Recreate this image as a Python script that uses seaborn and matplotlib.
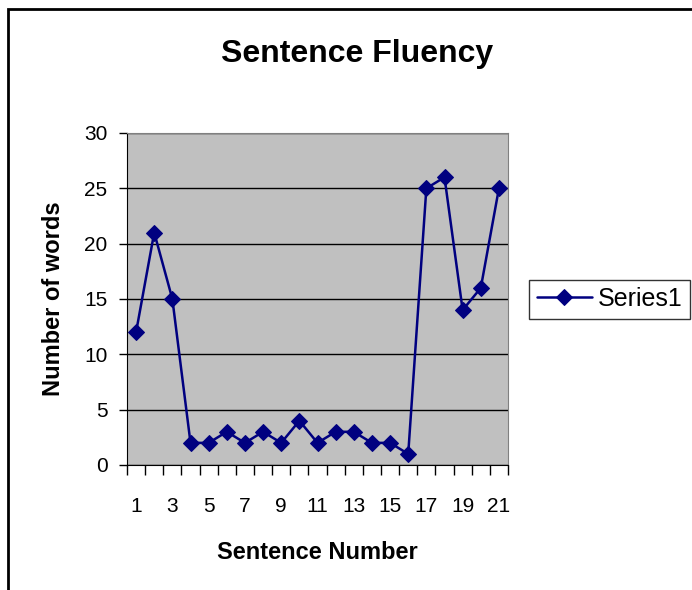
import numpy as np
import pandas as pd
import matplotlib
matplotlib.use('Agg')
import matplotlib.pyplot as plt
import matplotlib.patches as patches
import seaborn as sns

# Data
sentences = list(range(1, 22))
words = [12, 21, 15, 2, 2, 3, 2, 3, 2, 4, 2, 3, 3, 2, 2, 1, 25, 26, 14, 16, 25]
series_name = 'Series1'

df = pd.DataFrame({'Sentence': sentences, 'Words': words, 'Series': series_name})

sns.set_style('white')
plt.rcParams['font.family'] = ['Liberation Sans', 'DejaVu Sans']
plt.rcParams['text.color'] = 'black'
plt.rcParams['axes.labelcolor'] = 'black'
plt.rcParams['xtick.color'] = 'black'
plt.rcParams['ytick.color'] = 'black'

fig = plt.figure(figsize=(6.92, 5.90), dpi=100)
ax = fig.add_axes([127/692, 1-465/590, 381/692, 332/590])

sns.lineplot(data=df, x='Sentence', y='Words', hue='Series', palette=['#000080'],
             marker='D', markersize=8, markeredgecolor='#000080', linewidth=1.8, ax=ax)

ax.set_facecolor('#C0C0C0')
ax.set_xlim(0.5, 21.5)
ax.set_ylim(0, 30)
ax.set_yticks(range(0, 31, 5))
ax.yaxis.grid(True, color='black', linewidth=1)
ax.set_axisbelow(True)
for s in ['top', 'right']:
    ax.spines[s].set_color('#808080')
for s in ['left', 'bottom']:
    ax.spines[s].set_color('black')

# x ticks at category boundaries, labels at odd categories
ax.set_xticks(np.arange(0.5, 22, 1))
ax.set_xticklabels([])
ax.set_xticks(sentences[::2], minor=True)
ax.set_xticklabels([str(s) for s in sentences[::2]], minor=True)
ax.tick_params(axis='x', which='major', direction='out', length=7, width=1, color='black', bottom=True)
ax.tick_params(axis='x', which='minor', length=0, labelsize=15, pad=23)
ax.tick_params(axis='y', direction='out', length=6, width=1, color='black', left=True, labelsize=15, pad=8)

ax.set_xlabel('Sentence Number', fontsize=17, fontweight='bold', labelpad=18)
ax.set_ylabel('Number of words', fontsize=17, fontweight='bold', labelpad=14)
fig.text(357/692, 1-54/590, 'Sentence Fluency', ha='center', va='center',
         fontsize=23, fontweight='bold')

leg = ax.legend(loc='center left', bbox_to_anchor=((529 - 127)/381, 0.5),
                borderaxespad=0, frameon=True, fancybox=False, fontsize=18,
                handlelength=2.2, borderpad=0.3, handletextpad=0.25)
leg.get_frame().set_edgecolor('black')
leg.get_frame().set_linewidth(1)

# outer chart frame
fig.patches.append(patches.Rectangle((8/692, -0.1), 1.1, 1 - 9/590 + 0.1,
                                     transform=fig.transFigure, fill=False,
                                     edgecolor='black', linewidth=2))

fig.savefig('out.png', dpi=100)
